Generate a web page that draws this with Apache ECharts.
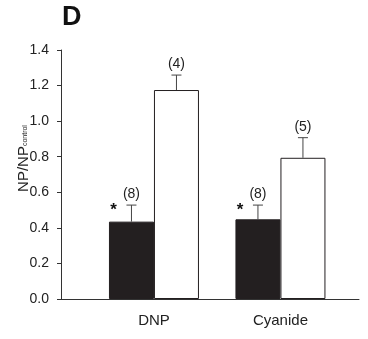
<!DOCTYPE html>
<html>
<head>
<meta charset="utf-8">
<script src="https://cdn.jsdelivr.net/npm/echarts@6/dist/echarts.min.js"></script>
<style>
  html, body { margin: 0; padding: 0; background: #fff; }
  #chart { width: 368px; height: 339px; }
</style>
</head>
<body>
<div id="chart"></div>
<script>
// groups on the x axis
const categories = ['DNP', 'Cyanide'];
const groupPos = [0, 1];

// filled bars (treated)
const filledVals = [0.435, 0.448];
const filledErr = [0.093, 0.080];
const filledN = [8, 8];

// open bars
const openVals = [1.175, 0.794];
const openErr = [0.084, 0.113];
const openN = [4, 5];

const BAR_W = 45;
const FONT = 'Liberation Sans, Arial, sans-serif';

const chart = echarts.init(document.getElementById('chart'), null, { renderer: 'canvas' });

// error bar + n label (+ asterisk for filled bars), placed through api.coord
function errorRenderer(side, star) {
  return function (params, api) {
    const x = api.value(0), v = api.value(1), e = api.value(2), n = api.value(3);
    const base = api.coord([x, v]);
    const top = api.coord([x, v + e]);
    const cx = base[0] + side * BAR_W / 2;
    const children = [
      { type: 'line', shape: { x1: cx, y1: base[1], x2: cx, y2: top[1] }, style: { stroke: '#444', lineWidth: 1 } },
      { type: 'line', shape: { x1: cx - 5, y1: top[1], x2: cx + 5, y2: top[1] }, style: { stroke: '#444', lineWidth: 1 } },
      { type: 'text', x: cx, y: top[1] - 4, style: { text: '(' + n + ')', fill: '#222', font: '14px ' + FONT, align: 'center', verticalAlign: 'bottom' } }
    ];
    if (star) {
      children.push({ type: 'text', x: cx - 18, y: top[1] + 5, style: { text: '*', fill: '#111', font: 'bold 17px ' + FONT, align: 'center', verticalAlign: 'middle' } });
    }
    return { type: 'group', children: children };
  };
}

const option = {
  backgroundColor: '#ffffff',
  animation: false,
  title: { text: 'D', left: 57, top: -1, textStyle: { fontFamily: FONT, fontSize: 27, fontWeight: 'bold', color: '#111' } },
  grid: { left: 61, right: 9, top: 50, bottom: 40 },
  xAxis: {
    type: 'value', min: -0.735, max: 1.621,
    axisLine: { show: true, onZero: false, lineStyle: { color: '#333', width: 1 } },
    axisTick: { show: false },
    splitLine: { show: false },
    axisLabel: {
      customValues: groupPos, margin: 14, fontSize: 15, fontFamily: FONT, color: '#222',
      formatter: v => categories[Math.round(v)]
    }
  },
  yAxis: {
    type: 'value', min: 0, max: 1.4, interval: 0.2,
    name: '{a|NP/NP}{b|control}', nameLocation: 'middle', nameGap: 30, nameRotate: 90,
    nameMoveOverlap: false,
    nameTextStyle: {
      padding: [0, 0, 0, 32],
      rich: {
        a: { fontSize: 15, fontFamily: FONT, color: '#222' },
        b: { fontSize: 7, fontFamily: FONT, color: '#222', padding: [0, 0, -4, 0] }
      }
    },
    axisLine: { show: true, onZero: false, lineStyle: { color: '#333', width: 1 } },
    axisTick: { show: true, length: 4, lineStyle: { color: '#333' } },
    splitLine: { show: false },
    axisLabel: { fontSize: 14, fontFamily: FONT, color: '#222', margin: 12, formatter: v => v.toFixed(1) }
  },
  series: [
    {
      type: 'bar', barWidth: BAR_W, barGap: '0%',
      data: groupPos.map((x, i) => [x, filledVals[i]]),
      itemStyle: { color: '#231f20', borderColor: '#231f20', borderWidth: 1 }
    },
    {
      type: 'bar', barWidth: BAR_W, barGap: '0%',
      data: groupPos.map((x, i) => [x, openVals[i]]),
      itemStyle: { color: '#ffffff', borderColor: '#231f20', borderWidth: 1 }
    },
    {
      type: 'custom', renderItem: errorRenderer(-1, true), z: 5,
      data: groupPos.map((x, i) => [x, filledVals[i], filledErr[i], filledN[i]])
    },
    {
      type: 'custom', renderItem: errorRenderer(1, false), z: 5,
      data: groupPos.map((x, i) => [x, openVals[i], openErr[i], openN[i]])
    }
  ]
};

chart.setOption(option);
</script>
</body>
</html>
